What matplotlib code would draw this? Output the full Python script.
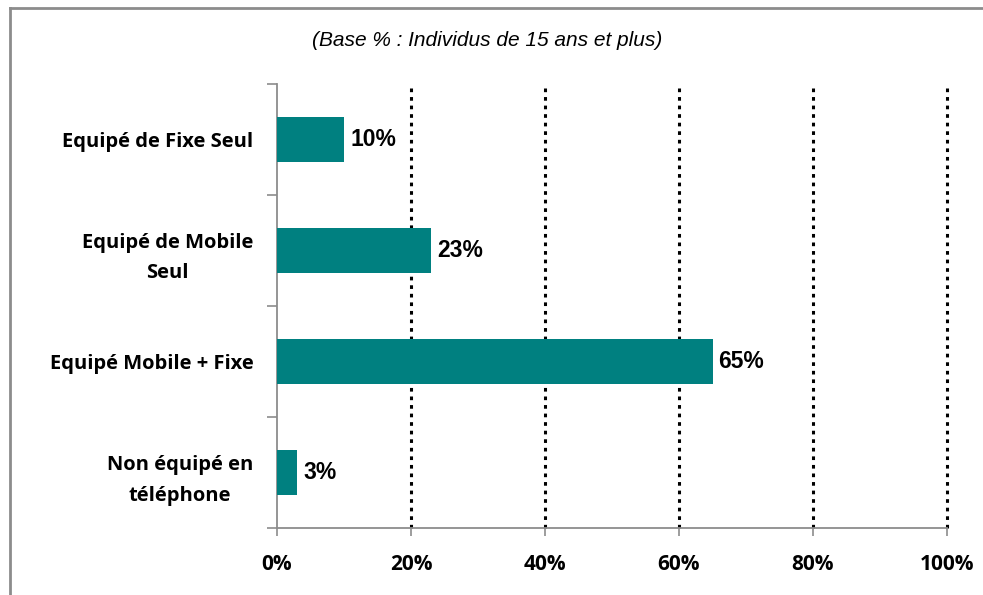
import matplotlib
matplotlib.use("Agg")
import matplotlib.pyplot as plt
from matplotlib.lines import Line2D

categories = ["Equipé de Fixe Seul", "Equipé de Mobile\nSeul", "Equipé Mobile + Fixe", "Non équipé en\ntéléphone"]
values = [10, 23, 65, 3]
xticks = [0, 20, 40, 60, 80, 100]
xtick_labels = ["0%", "20%", "40%", "60%", "80%", "100%"]
title = "(Base % : Individus de 15 ans et plus)"

bar_color = "#008080"
gray = "#8c8c8c"

fig = plt.figure(figsize=(9.83, 5.95), dpi=100)
ax = fig.add_axes([277/983, 1-528/595, 670/983, 444/595])

n = len(categories)
ypos = list(range(n))
ax.barh(ypos, values, height=0.4, color=bar_color, zorder=3)
ax.set_ylim(n - 0.5, -0.5)
ax.set_xlim(0, 100)

for v in xticks[1:]:
    ax.axvline(v, color="black", linestyle=(0, (1.2, 1.6)), linewidth=2.2, zorder=1,
               clip_on=False)

for y, v in zip(ypos, values):
    ax.text(v + 0.9, y, f"{v}%", va="center", ha="left", fontsize=16.5,
            fontweight="bold", family="Liberation Sans", zorder=4)

ax.set_yticks(ypos)
ax.set_yticklabels(categories, fontsize=14.5, fontweight="bold", family="Open Sans",
                   linespacing=1.7)
for t in ax.get_yticklabels():
    t.set_multialignment("center")
ax.tick_params(axis="y", length=0, pad=17)
# category boundary ticks
ax.set_yticks([i - 0.5 for i in range(n + 1)], minor=True)
ax.tick_params(axis="y", which="minor", length=7, color=gray, width=1.2, direction="out")

ax.set_xticks(xticks)
ax.set_xticklabels(xtick_labels, fontsize=15, fontweight="bold", family="Open Sans")
ax.tick_params(axis="x", length=6, color=gray, width=1.2, direction="out", pad=13)

for s in ["top", "right"]:
    ax.spines[s].set_visible(False)
for s in ["left", "bottom"]:
    ax.spines[s].set_color(gray)
    ax.spines[s].set_linewidth(1.3)

fig.text(487/983, 1-40/595, title, ha="center", va="center", fontsize=15,
         style="italic", family="Liberation Sans")

# outer chart border (left and top visible)
fig.add_artist(Line2D([9.5/983, 9.5/983], [0, 1-8/595], transform=fig.transFigure,
                      color=gray, linewidth=2))
fig.add_artist(Line2D([9.5/983, 1], [1-8/595, 1-8/595], transform=fig.transFigure,
                      color=gray, linewidth=2))

fig.savefig("out.png", dpi=100)
